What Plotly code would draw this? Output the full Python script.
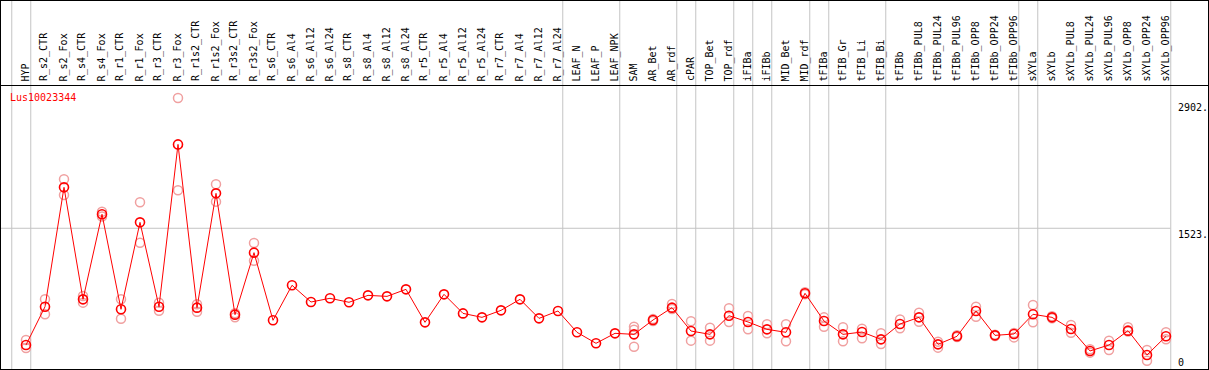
import plotly.graph_objects as go

W, H = 1209, 370

categories = [
    "HYP", "R_s2_CTR", "R_s2_Fox", "R_s4_CTR", "R_s4_Fox", "R_r1_CTR", "R_r1_Fox",
    "R_r3_CTR", "R_r3_Fox", "R_r1s2_CTR", "R_r1s2_Fox", "R_r3s2_CTR", "R_r3s2_Fox",
    "R_s6_CTR", "R_s6_Al4", "R_s6_Al12", "R_s6_Al24", "R_s8_CTR", "R_s8_Al4",
    "R_s8_Al12", "R_s8_Al24", "R_r5_CTR", "R_r5_Al4", "R_r5_Al12", "R_r5_Al24",
    "R_r7_CTR", "R_r7_Al4", "R_r7_Al12", "R_r7_Al24", "LEAF_N", "LEAF_P", "LEAF_NPK",
    "SAM", "AR_Bet", "AR_rdf", "cPAR", "TOP_Bet", "TOP_rdf", "iFIBa", "iFIBb",
    "MID_Bet", "MID_rdf", "tFIBa", "tFIB_Gr", "tFIB_Li", "tFIB_Bi", "tFIBb",
    "tFIBb_PUL8", "tFIBb_PUL24", "tFIBb_PUL96", "tFIBb_OPP8", "tFIBb_OPP24",
    "tFIBb_OPP96", "sXYLa", "sXYLb", "sXYLb_PUL8", "sXYLb_PUL24", "sXYLb_PUL96",
    "sXYLb_OPP8", "sXYLb_OPP24", "sXYLb_OPP96",
]

mean_values = [
    260, 674, 1966, 754, 1674, 646, 1587,
    674, 2431, 664, 1901, 588, 1259,
    527, 906, 725, 765, 722, 797,
    786, 862, 505, 808, 602, 559,
    635, 754, 548, 628, 397, 278, 386,
    375, 530, 664, 411, 375, 577, 509, 429,
    397, 819, 519, 375, 400, 321, 487,
    559, 267, 354, 628, 364,
    379, 592, 559, 433, 195, 260,
    415, 152, 354,
]

rep_values = [
    [314, 227], [754, 592], [2053, 1883], [790, 718], [1702, 1650], [754, 544], [1804, 1367],
    [718, 631], [2933, 1934], [700, 620], [1999, 1811], [603, 559], [1364, 1172],
    [], [], [], [], [], [],
    [], [], [], [], [], [],
    [], [], [], [], [], [], [],
    [458, 425, 241], [540, 520], [703, 650], [516, 307], [447, 307], [657, 509], [574, 429], [484, 386],
    [484, 300], [830, 810], [559, 458], [451, 300], [436, 332], [386, 271], [537, 440],
    [609, 512], [296, 231], [365, 345], [675, 566], [370, 358],
    [390, 342], [693, 505], [570, 550], [476, 393], [213, 177], [307, 206],
    [451, 405], [206, 90], [397, 321],
]

gene_id = "Lus10023344"
tick_values = [2902, 1523, 0]
tick_labels = ["2902.", "1523.", "0"]
gridline_value = 1523

# separators drawn right after these categories (None = before the first)
separators_after = [None, "HYP", "R_r7_Al24", "LEAF_NPK", "AR_rdf", "cPAR", "TOP_rdf",
                    "iFIBa", "iFIBb", "MID_rdf", "tFIBa", "tFIB_Bi", "tFIBb_OPP96",
                    "sXYLa", "sXYLb_OPP96"]

# ----- geometry (pixel layout of the reference) -----
x0_px, step_px = 26.0, 19.0
x_lo = (0 - x0_px) / step_px
x_hi = (W - x0_px) / step_px
px_per_unit = 0.0924
base_px = 369.0
y_hi = base_px / px_per_unit
y_lo = (base_px - H) / px_per_unit


def py(pix):
    return (H - pix) / H


def px(pix):
    return pix / W


rep_x, rep_y = [], []
for c, vals in zip(categories, rep_values):
    for v in vals:
        rep_x.append(c)
        rep_y.append(v)

fig = go.Figure()
fig.add_trace(go.Scatter(
    x=rep_x, y=rep_y, mode="markers",
    marker=dict(symbol="circle-open", size=9, color="#f0a0a0", line=dict(width=1.5, color="#f0a0a0")),
    hoverinfo="skip", showlegend=False,
))
fig.add_trace(go.Scatter(
    x=categories, y=mean_values, mode="lines+markers",
    line=dict(color="#ff0000", width=1),
    marker=dict(symbol="circle-open", size=9, color="#ff0000", line=dict(width=1.6, color="#ff0000")),
    showlegend=False,
))

shapes = []
gray = "#c4c4c4"
for s in separators_after:
    idx = -1 if s is None else categories.index(s)
    xv = idx + 0.25
    shapes.append(dict(type="line", xref="x", yref="paper", x0=xv, x1=xv, y0=0, y1=1,
                       line=dict(color=gray, width=1), layer="below"))
shapes.append(dict(type="line", xref="paper", yref="y", x0=0, x1=px(1170.5),
                   y0=gridline_value, y1=gridline_value, line=dict(color=gray, width=1), layer="below"))
# black frame and header separator
black = "#000000"
shapes += [
    dict(type="line", xref="paper", yref="paper", x0=0, x1=1, y0=py(0.5), y1=py(0.5), line=dict(color=black, width=1)),
    dict(type="line", xref="paper", yref="paper", x0=0, x1=1, y0=py(85.5), y1=py(85.5), line=dict(color=black, width=1)),
    dict(type="line", xref="paper", yref="paper", x0=0, x1=1, y0=py(369.5), y1=py(369.5), line=dict(color=black, width=1)),
    dict(type="line", xref="paper", yref="paper", x0=px(0.5), x1=px(0.5), y0=0, y1=1, line=dict(color=black, width=1)),
    dict(type="line", xref="paper", yref="paper", x0=px(1208.5), x1=px(1208.5), y0=0, y1=1, line=dict(color=black, width=1)),
]

mono = "DejaVu Sans Mono"
annotations = []
for c in categories:
    annotations.append(dict(
        x=c, xref="x", y=py(82.5), yref="paper", text=c, textangle=-90,
        xanchor="center", yanchor="bottom", showarrow=False, xshift=-1,
        font=dict(family=mono, size=10, color="#000000"), borderpad=0,
    ))
annotations.append(dict(
    x=px(9), xref="paper", y=py(97), yref="paper", text=gene_id,
    xanchor="left", yanchor="middle", showarrow=False,
    font=dict(family=mono, size=10, color="#ff0000"), borderpad=0,
))
for v, t in zip(tick_values, tick_labels):
    if v == 0:
        annotations.append(dict(x=px(1177), xref="paper", y=v, yref="y", text=t,
                                xanchor="left", yanchor="bottom", yshift=0, showarrow=False,
                                font=dict(family=mono, size=10, color="#000000"), borderpad=0))
    else:
        annotations.append(dict(x=px(1177), xref="paper", y=v, yref="y", text=t,
                                xanchor="left", yanchor="top", showarrow=False,
                                font=dict(family=mono, size=10, color="#000000"), borderpad=0))

fig.update_layout(
    width=W, height=H, margin=dict(l=0, r=0, t=0, b=0),
    paper_bgcolor="#ffffff", plot_bgcolor="#ffffff",
    xaxis=dict(type="category", categoryorder="array", categoryarray=categories,
               range=[x_lo, x_hi], showgrid=False, zeroline=False, showticklabels=False,
               showline=False, ticks="", fixedrange=True),
    yaxis=dict(range=[y_lo, y_hi], showgrid=False, zeroline=False, showticklabels=False,
               showline=False, ticks="", fixedrange=True),
    shapes=shapes, annotations=annotations, showlegend=False,
)

fig.write_html("out.html", config={"displayModeBar": False},
               post_script="document.body.style.margin='0px';document.body.style.padding='0px';")
